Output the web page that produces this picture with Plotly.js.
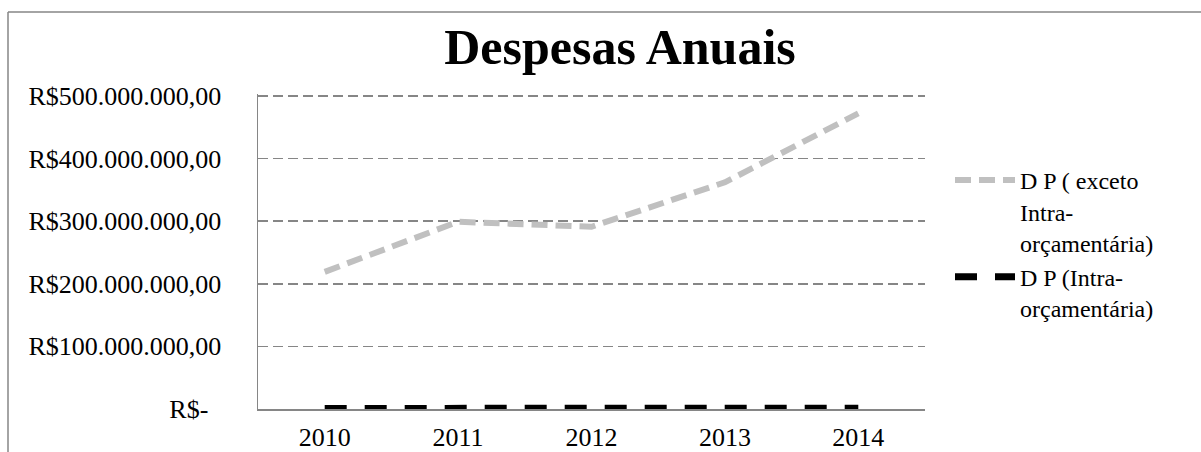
<!DOCTYPE html>
<html>
<head>
<meta charset="utf-8">
<script src="https://cdn.plot.ly/plotly-3.0.1.min.js"></script>
<style>html,body{margin:0;padding:0;background:#fff;}#chart{width:1201px;height:452px;}</style>
</head>
<body>
<div id="chart"></div>
<script>
const years = ['2010', '2011', '2012', '2013', '2014'];
const seriesExceto = [219000000, 299000000, 291000000, 362000000, 472000000];
const seriesIntra = [900000, 1000000, 1100000, 1200000, 1300000];
const nameExceto = 'D P ( exceto<br>Intra-<br>orçamentária)';
const nameIntra = 'D P (Intra-<br>orçamentária)';
const yTickVals = [0, 100000000, 200000000, 300000000, 400000000, 500000000];
const yTickText = ['R$-\u00a0\u00a0', 'R$100.000.000,00', 'R$200.000.000,00', 'R$300.000.000,00', 'R$400.000.000,00', 'R$500.000.000,00'];

const W = 1201, H = 452;
const L = 258, R = 925, T = 94, B = 409;
const YMAX = 503000000;
const pw = R - L, ph = B - T;
const px = v => (v - L) / pw;
const py = v => (B - v) / ph;
const font = 'Liberation Serif';
const grid = '#868686';

const traces = [
  {x: years, y: seriesExceto, name: nameExceto, type: 'scatter', mode: 'lines',
   line: {color: '#c0c0c0', width: 6, dash: '16px,8px'}},
  {x: years, y: seriesIntra, name: nameIntra, type: 'scatter', mode: 'lines',
   line: {color: '#000000', width: 7, dash: '22px,18px'}}
];

const layout = {
  width: W, height: H,
  margin: {l: L, r: W - R, t: T, b: H - B, pad: 0},
  paper_bgcolor: '#ffffff', plot_bgcolor: '#ffffff',
  font: {family: font, size: 26, color: '#000'},
  title: {text: '<b>Despesas Anuais</b>', font: {family: font, size: 50, color: '#000'},
          xref: 'container', yref: 'container', x: 620 / W, y: 1 - 46 / H,
          xanchor: 'center', yanchor: 'middle'},
  xaxis: {type: 'category', range: [-0.5, 4.5], showgrid: false, zeroline: false,
          showline: true, linecolor: grid, linewidth: 1.5, ticks: '',
          ticklabelstandoff: 4, tickfont: {family: font, size: 26, color: '#000'}},
  yaxis: {range: [0, YMAX], tickvals: yTickVals, ticktext: yTickText,
          showgrid: true, gridcolor: grid, gridwidth: 1.5, griddash: '10px,5px',
          zeroline: false, showline: true, linecolor: grid, linewidth: 1.5, ticks: '',
          ticklabelstandoff: 30, tickfont: {family: font, size: 26, color: '#000'}},
  showlegend: true,
  legend: {x: px(950), y: py(158), xanchor: 'left', yanchor: 'top', valign: 'top',
           font: {family: font, size: 24, color: '#000'}, itemwidth: 60,
           bgcolor: 'rgba(0,0,0,0)', tracegroupgap: 0},
  shapes: [
    {type: 'line', xref: 'paper', yref: 'paper', x0: px(8), x1: px(1220), y0: py(12), y1: py(12),
     line: {color: grid, width: 1.5}},
    {type: 'line', xref: 'paper', yref: 'paper', x0: px(8), x1: px(8), y0: py(12), y1: py(470),
     line: {color: grid, width: 1.5}}
  ]
};

Plotly.newPlot('chart', traces, layout, {displayModeBar: false, staticPlot: true});
</script>
</body>
</html>
